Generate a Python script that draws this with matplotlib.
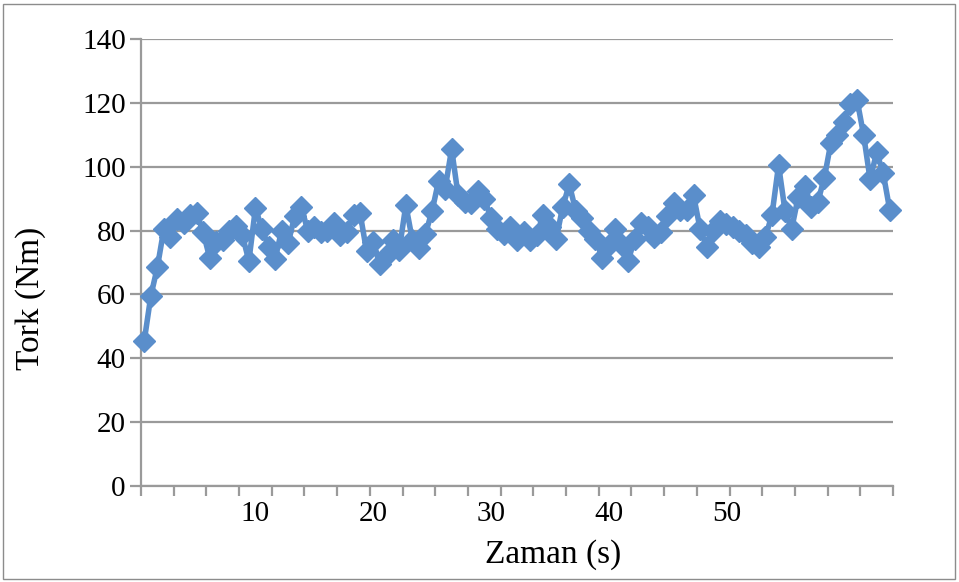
import numpy as np
import matplotlib
matplotlib.use("Agg")
import matplotlib.pyplot as plt
from matplotlib.patches import Rectangle

# Tork ölçümü, örnekleme aralığı ~0.556 s (18 örnek / 10 s)
tork = [45.5, 59.5, 68.5, 80.5, 78, 83.5, 82.5, 85, 85.5, 79.5,
        71.5, 76.5, 77, 80, 81.5, 78.5, 70.5, 87, 80.5, 75,
        71, 80, 76, 84.5, 87.5, 80, 81, 79.5, 80, 82.5,
        78.5, 79.5, 85, 85.5, 73.5, 76.5, 69.5, 72, 77, 74,
        88, 77, 74.5, 79, 86, 95.5, 93, 105.5, 91, 89,
        88.5, 92.5, 90, 84, 80.5, 79, 81, 77, 79.5, 77,
        78.5, 85, 81, 77.5, 87.5, 94.5, 86, 84, 80, 77.5,
        71.5, 75.5, 80.5, 75.5, 70.5, 77.5, 82.5, 81, 78, 79.5,
        84.5, 88.5, 86.5, 86.5, 91, 80.5, 75, 80, 83, 82,
        81, 80, 78.5, 76, 75, 78, 85, 100.5, 86, 80.5,
        90.5, 94, 87.5, 89, 96.5, 107.5, 110, 114, 119.5, 121,
        110, 96, 104.5, 98, 86.5]
dt = 10 / 18
zaman = dt * np.arange(1, len(tork) + 1)
x_etiket = [10, 20, 30, 40, 50]
y_etiket = [0, 20, 40, 60, 80, 100, 120, 140]

plt.rcParams["font.family"] = ["Liberation Serif", "DejaVu Serif"]

fig = plt.figure(figsize=(9.59, 5.82), dpi=100)
ax = fig.add_axes([141 / 959, 1 - 486 / 582, 752 / 959, 447 / 582])

grid_c = "#9a9a9a"
ax.plot(zaman, tork, color="#5a8ecb", lw=4.0, marker="D", ms=11,
        mec="#5a8ecb", mfc="#5a8ecb", zorder=3, clip_on=False)

ax.set_xlim(dt * 0.5, dt * (len(tork) + 0.5))
ax.set_ylim(0, 140)
ax.set_yticks(y_etiket)
ax.yaxis.grid(True, color=grid_c, lw=1.6)
ax.set_axisbelow(True)

ax.set_xticks(x_etiket)
ax.set_xticks(dt * (0.5 + 5 * np.arange(len(tork) // 5 + 1)), minor=True)
ax.tick_params(axis="x", which="major", length=0, pad=11, labelsize=21)
ax.tick_params(axis="x", which="minor", length=7, width=1.6, color=grid_c)
ax.tick_params(axis="y", length=8, width=1.6, color=grid_c, pad=3, labelsize=21)

for s in ["top", "right"]:
    ax.spines[s].set_visible(False)
for s in ["left", "bottom"]:
    ax.spines[s].set_color(grid_c)
    ax.spines[s].set_linewidth(1.6)

fig.text(553 / 959, 1 - 555 / 582, "Zaman (s)", ha="center", va="center", fontsize=24)
fig.text(31 / 959, 1 - 298 / 582, "Tork (Nm)", ha="center", va="center",
         fontsize=24, rotation=90)

fig.patches.append(Rectangle((3 / 959, 3 / 582), 952 / 959, 575 / 582,
                             transform=fig.transFigure, fill=False,
                             ec="#8c8c8c", lw=1.0))

fig.savefig("out.png", dpi=100)
